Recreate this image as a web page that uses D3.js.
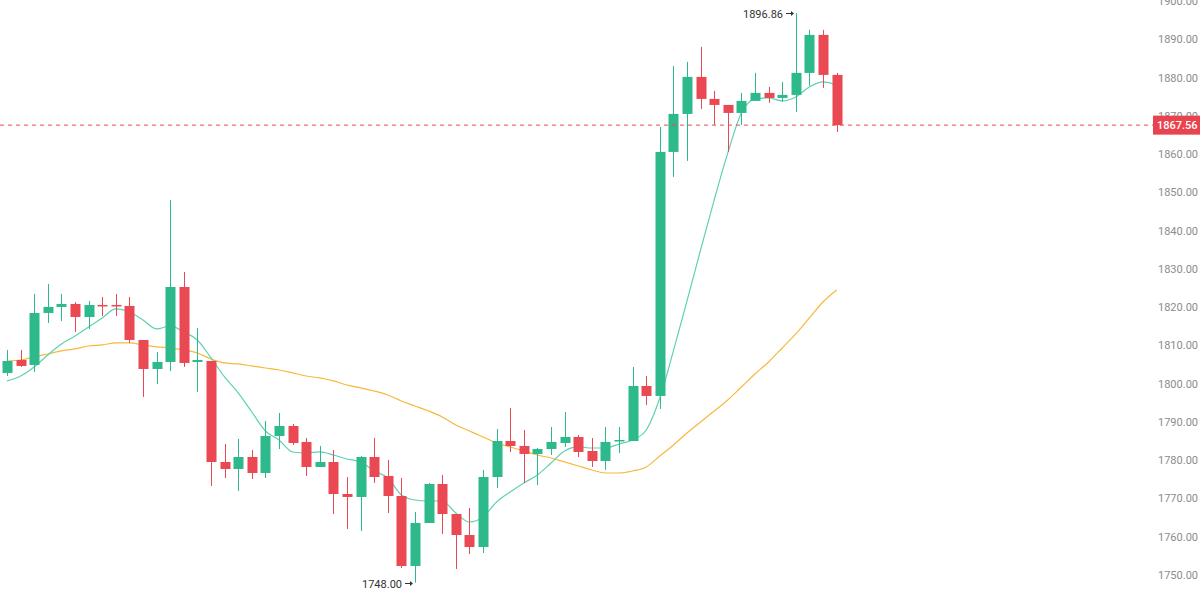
<!DOCTYPE html>
<html><head><meta charset="utf-8">
<script src="https://cdn.jsdelivr.net/npm/d3@7"></script>
<style>html,body{margin:0;padding:0;background:#fff;overflow:hidden}</style>
</head><body><svg id="c" width="1200" height="613"></svg>
<script>
const opens  = [1802.80,1806.19,1804.89,1818.48,1820.05,1820.83,1817.43,1820.57,1820.57,1820.31,1811.42,1803.84,1805.67,1825.27,1805.67,1805.93,1779.53,1777.71,1780.84,1776.66,1786.33,1788.94,1784.76,1778.23,1779.53,1771.17,1770.39,1780.84,1775.88,1770.65,1752.35,1763.59,1773.78,1765.94,1760.45,1757.32,1775.61,1785.02,1783.72,1781.63,1782.93,1784.50,1786.07,1782.41,1779.80,1785.02,1785.02,1799.40,1796.79,1860.56,1870.49,1880.16,1874.41,1872.84,1870.75,1873.89,1875.98,1874.67,1875.46,1881.21,1891.14,1880.69];
const highs  = [1808.81,1808.81,1823.44,1826.06,1823.44,1821.35,1821.62,1822.66,1823.44,1822.66,1811.42,1808.29,1848.01,1829.20,1814.56,1805.93,1784.24,1785.55,1782.67,1790.25,1792.34,1789.47,1785.81,1783.72,1782.67,1775.61,1781.10,1785.81,1780.06,1775.35,1766.47,1774.05,1776.14,1765.94,1767.51,1777.44,1788.16,1793.65,1787.90,1783.19,1788.68,1792.60,1786.59,1785.81,1788.68,1788.68,1804.36,1802.01,1867.09,1883.04,1884.08,1888.00,1876.50,1872.84,1875.98,1881.21,1877.55,1878.86,1896.86,1892.45,1892.45,1881.21];
const lows   = [1802.01,1804.37,1803.06,1815.87,1816.39,1813.51,1814.30,1817.69,1817.69,1810.64,1796.52,1799.92,1803.32,1804.37,1797.83,1773.26,1775.35,1771.96,1775.09,1775.35,1782.93,1783.98,1775.88,1778.23,1765.94,1762.02,1761.50,1774.05,1766.20,1751.83,1748.00,1763.59,1760.72,1751.57,1755.49,1755.75,1772.74,1782.15,1774.05,1773.52,1781.36,1783.46,1780.84,1778.23,1777.44,1781.89,1785.02,1794.43,1793.39,1854.03,1858.21,1871.80,1867.62,1860.56,1867.62,1873.89,1873.37,1873.63,1871.01,1877.81,1877.29,1865.79];
const closes = [1805.93,1804.63,1818.48,1820.05,1820.83,1817.43,1820.57,1820.31,1820.31,1811.42,1803.84,1805.67,1825.27,1805.41,1806.19,1779.53,1777.71,1780.84,1776.66,1786.33,1788.94,1784.50,1778.23,1779.53,1771.17,1770.39,1780.84,1775.61,1770.65,1752.35,1763.59,1773.78,1765.94,1760.45,1757.32,1775.61,1785.02,1783.72,1781.63,1782.93,1784.76,1786.07,1782.15,1779.80,1784.76,1785.28,1799.40,1796.79,1860.56,1870.49,1880.16,1874.41,1872.84,1870.75,1873.89,1875.98,1874.67,1875.46,1881.21,1891.14,1880.69,1867.56];
const maFast = [1800.71,1802.01,1804.36,1807.50,1810.38,1812.47,1814.82,1817.17,1819.52,1818.74,1816.65,1814.30,1815.08,1813.51,1811.42,1806.72,1801.75,1797.57,1792.60,1787.64,1785.28,1782.15,1781.89,1782.15,1781.36,1780.32,1779.53,1777.18,1775.35,1770.91,1769.60,1769.34,1769.34,1766.20,1763.85,1765.16,1769.08,1771.69,1774.05,1776.14,1779.27,1782.41,1783.46,1783.19,1783.19,1784.24,1785.28,1787.90,1796.26,1808.55,1821.62,1834.95,1848.01,1860.30,1870.75,1874.41,1874.67,1873.89,1874.93,1877.55,1878.86,1878.07];
const maSlow = [1805.93,1806.19,1806.98,1807.76,1808.55,1809.07,1809.85,1810.12,1810.64,1810.64,1810.12,1809.59,1809.33,1808.81,1808.02,1806.46,1805.41,1805.15,1804.63,1804.10,1803.58,1802.80,1802.01,1801.49,1800.71,1799.66,1798.88,1798.09,1797.05,1795.48,1794.17,1792.86,1791.30,1789.21,1787.64,1786.07,1784.50,1783.46,1782.41,1781.36,1780.58,1779.53,1778.49,1777.44,1776.66,1776.66,1777.18,1778.23,1781.10,1783.98,1787.11,1789.99,1792.86,1795.74,1799.14,1802.54,1805.67,1809.33,1812.99,1817.17,1821.35,1824.49];
const yTicks = [1750,1760,1770,1780,1790,1800,1810,1820,1830,1840,1850,1860,1870,1880,1890,1900];
const lastPrice = 1867.56;
const maxLabel = "1896.86";
const minLabel = "1748.00";

const UP = "#2db98c", DOWN = "#ea4853";
const FONT = "Roboto, 'Noto Sans', sans-serif";
const svg = d3.select("#c");
const n = opens.length;
const x = d3.scaleLinear().domain([0, n - 1]).range([7, 836.6]);
const y = d3.scaleLinear().domain([1750, 1900]).range([575, 1]);
const data = d3.range(n).map(i => ({i, o: opens[i], h: highs[i], l: lows[i], c: closes[i]}));

// axis labels
const axis = d3.axisRight(y).tickValues(yTicks).tickFormat(d3.format(".2f")).tickSize(0).tickPadding(0);
const ag = svg.append("g").attr("transform", "translate(1158,0)").call(axis);
ag.select(".domain").remove();
ag.selectAll("text").attr("fill", "#8c8c8c").style("font-family", FONT).style("font-size", "11px");

// MA lines
const line = arr => d3.line().x((d, i) => x(i)).y(d => y(d)).curve(d3.curveMonotoneX)(arr);
svg.append("path").attr("d", line(maSlow)).attr("fill", "none").attr("stroke", "#f6b93b").attr("stroke-width", 1.2);
svg.append("path").attr("d", line(maFast)).attr("fill", "none").attr("stroke", "#5dd2b3").attr("stroke-width", 1.2);

// candles
const g = svg.append("g");
g.selectAll("line.w").data(data).join("line")
  .attr("x1", d => Math.round(x(d.i)) + 0.5).attr("x2", d => Math.round(x(d.i)) + 0.5)
  .attr("y1", d => y(d.h)).attr("y2", d => y(d.l))
  .attr("stroke", d => d.c >= d.o ? UP : DOWN).attr("stroke-width", 1);
g.selectAll("rect.b").data(data).join("rect")
  .attr("x", d => Math.round(x(d.i)) - 4.5).attr("width", 10)
  .attr("y", d => y(Math.max(d.o, d.c)))
  .attr("height", d => Math.max(1.5, Math.abs(y(d.o) - y(d.c))))
  .attr("fill", d => d.c >= d.o ? UP : DOWN);

// last price line + label
svg.append("line").attr("x1", 0).attr("x2", 1153).attr("y1", y(lastPrice)).attr("y2", y(lastPrice))
  .attr("stroke", DOWN).attr("stroke-dasharray", "4,4").attr("stroke-width", 1);
svg.append("rect").attr("x", 1153).attr("y", y(lastPrice) - 9.5).attr("width", 47).attr("height", 19).attr("fill", "#e9434f");
svg.append("text").attr("x", 1157).attr("y", y(lastPrice) + 4).text(lastPrice.toFixed(2))
  .attr("fill", "#fff").style("font-family", FONT).style("font-size", "11px").style("font-weight", "500");

// extreme annotations with arrows
function annotate(i, v, label) {
  const ax = Math.round(x(i)), ay = Math.round(y(v)) + 0.5;
  svg.append("text").attr("x", ax - 13).attr("y", ay + 4).attr("text-anchor", "end")
    .text(label).attr("fill", "#333").style("font-family", FONT).style("font-size", "11px");
  svg.append("line").attr("x1", ax - 10).attr("x2", ax - 4).attr("y1", ay).attr("y2", ay)
    .attr("stroke", "#333").attr("stroke-width", 1);
  svg.append("path").attr("d", `M${ax - 2},${ay} L${ax - 5},${ay - 2.5} L${ax - 5},${ay + 2.5} Z`).attr("fill", "#333");
}
const maxI = highs.indexOf(d3.max(highs)), minI = lows.indexOf(d3.min(lows));
annotate(maxI, highs[maxI], maxLabel);
annotate(minI, lows[minI], minLabel);
</script></body></html>
